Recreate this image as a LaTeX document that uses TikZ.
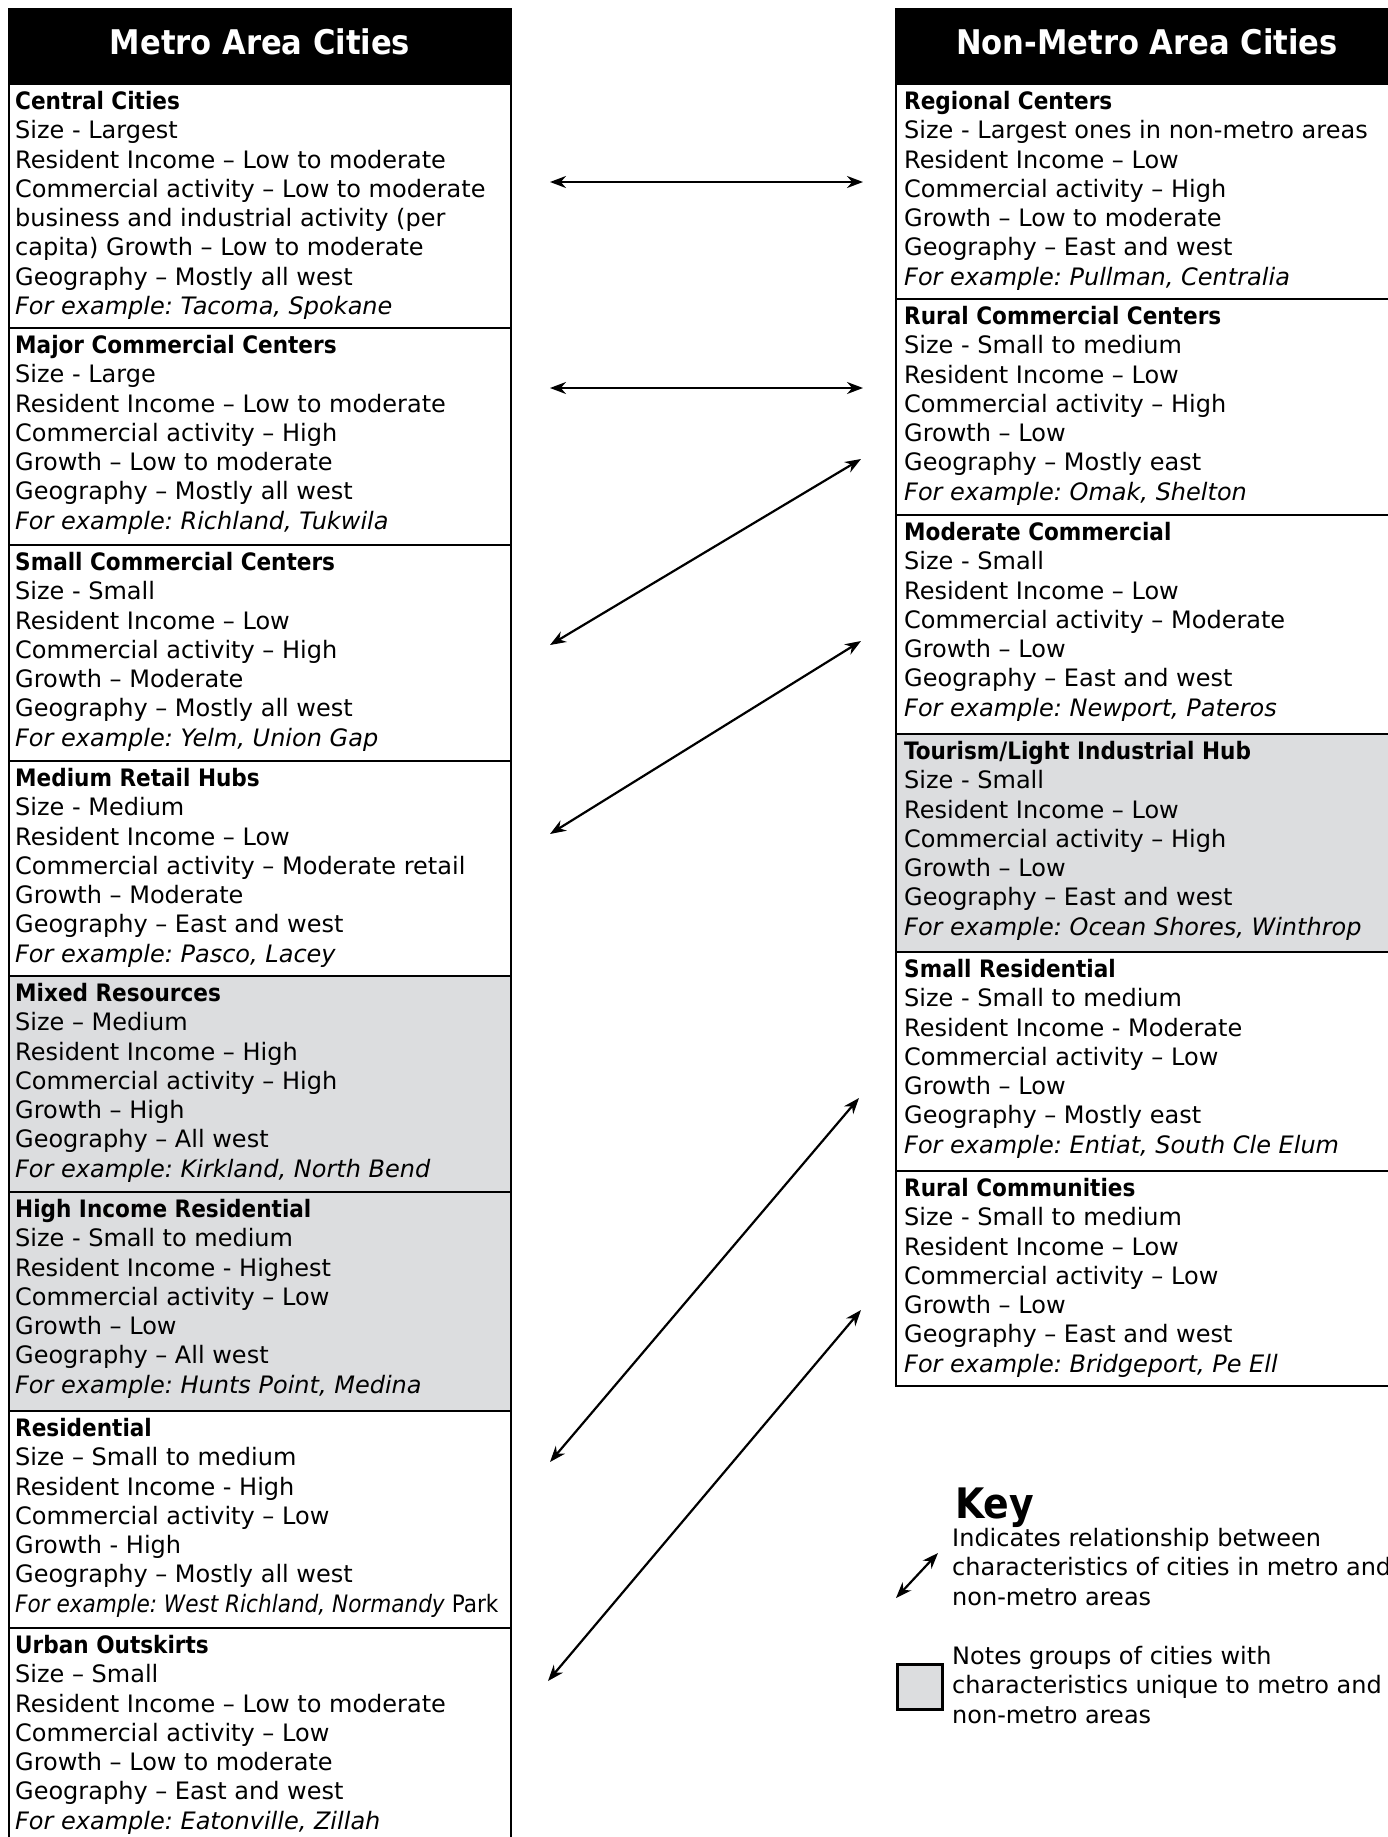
\documentclass[tikz,border=0pt]{standalone}
\usepackage{fontspec}
\setmainfont{DejaVu Sans}
\newfontfamily\condfont{DejaVu Sans Condensed}
\usetikzlibrary{arrows.meta, positioning}
\definecolor{uniquegrey}{RGB}{220,221,223}
\newcommand{\grphead}[1]{{\condfont\bfseries #1}}
\frenchspacing

\begin{document}
\begin{tikzpicture}[x=1pt, y=-1pt,
    grp/.style={draw, line width=2.6pt, minimum width=502pt, inner sep=0pt, outer sep=0pt, anchor=north west},
    unique/.style={grp, fill=uniquegrey},
    hdr/.style={grp, fill=black, minimum height=75pt, text=white, font=\fontsize{34}{40}\selectfont\condfont\bfseries, text height=26pt, text depth=11pt},
    txt/.style={anchor=north west, inner sep=0pt, align=left, font=\fontsize{24}{29.3}\selectfont},
    link/.style={{Stealth[length=16pt,width=12pt]}-{Stealth[length=16pt,width=12pt]}, line width=2.2pt}]
    \useasboundingbox (0,0) rectangle (1388,1837);

    % Metro column
    \node[hdr] (mhead) at (9,9) {Metro Area Cities};
    \node[grp, minimum height=244pt, below=0pt of mhead] (central) {};
    \node[grp, minimum height=217pt, below=0pt of central] (majorcc) {};
    \node[grp, minimum height=216pt, below=0pt of majorcc] (smallcc) {};
    \node[grp, minimum height=215pt, below=0pt of smallcc] (retail) {};
    \node[unique, minimum height=216pt, below=0pt of retail] (mixed) {};
    \node[unique, minimum height=219pt, below=0pt of mixed] (hiinc) {};
    \node[grp, minimum height=217pt, below=0pt of hiinc] (resid) {};
    \node[grp, minimum height=230pt, below=0pt of resid] (outskirts) {};

    \node[txt] at ([shift={(6,7)}]central.north west) {\grphead{Central Cities}\\Size - Largest\\Resident Income – Low to moderate\\Commercial activity – Low to moderate\\business and industrial activity (per\\capita) Growth – Low to moderate\\Geography – Mostly all west\\\textit{For example: Tacoma, Spokane}};
    \node[txt] at ([shift={(6,7)}]majorcc.north west) {\grphead{Major Commercial Centers}\\Size - Large\\Resident Income – Low to moderate\\Commercial activity – High\\Growth – Low to moderate\\Geography – Mostly all west\\\textit{For example: Richland, Tukwila}};
    \node[txt] at ([shift={(6,7)}]smallcc.north west) {\grphead{Small Commercial Centers}\\Size - Small\\Resident Income – Low\\Commercial activity – High\\Growth – Moderate\\Geography – Mostly all west\\\textit{For example: Yelm, Union Gap}};
    \node[txt] at ([shift={(6,7)}]retail.north west) {\grphead{Medium Retail Hubs}\\Size - Medium\\Resident Income – Low\\Commercial activity – Moderate retail\\Growth – Moderate\\Geography – East and west\\\textit{For example: Pasco, Lacey}};
    \node[txt] at ([shift={(6,7)}]mixed.north west) {\grphead{Mixed Resources}\\Size – Medium\\Resident Income – High\\Commercial activity – High\\Growth – High\\Geography – All west\\\textit{For example: Kirkland, North Bend}};
    \node[txt] at ([shift={(6,7)}]hiinc.north west) {\grphead{High Income Residential}\\Size - Small to medium\\Resident Income - Highest\\Commercial activity – Low\\Growth – Low\\Geography – All west\\\textit{For example: Hunts Point, Medina}};
    \node[txt] at ([shift={(6,7)}]resid.north west) {\grphead{Residential}\\Size – Small to medium\\Resident Income - High\\Commercial activity – Low\\Growth - High\\Geography – Mostly all west\\{\condfont\textit{For example: West Richland, Normandy} Park}};
    \node[txt] at ([shift={(6,7)}]outskirts.north west) {\grphead{Urban Outskirts}\\Size – Small\\Resident Income – Low to moderate\\Commercial activity – Low\\Growth – Low to moderate\\Geography – East and west\\\textit{For example: Eatonville, Zillah}};

    % Non-metro column
    \node[hdr] (nhead) at (896,9) {Non-Metro Area Cities};
    \node[grp, minimum height=215pt, below=0pt of nhead] (regional) {};
    \node[grp, minimum height=216pt, below=0pt of regional] (ruralcc) {};
    \node[grp, minimum height=219pt, below=0pt of ruralcc] (modcomm) {};
    \node[unique, minimum height=218pt, below=0pt of modcomm] (tourism) {};
    \node[grp, minimum height=219pt, below=0pt of tourism] (smallres) {};
    \node[grp, minimum height=215pt, below=0pt of smallres] (ruralcom) {};

    \node[txt] at ([shift={(8,7)}]regional.north west) {\grphead{Regional Centers}\\Size - Largest ones in non-metro areas\\Resident Income – Low\\Commercial activity – High\\Growth – Low to moderate\\Geography – East and west\\\textit{For example: Pullman, Centralia}};
    \node[txt] at ([shift={(8,7)}]ruralcc.north west) {\grphead{Rural Commercial Centers}\\Size - Small to medium\\Resident Income – Low\\Commercial activity – High\\Growth – Low\\Geography – Mostly east\\\textit{For example: Omak, Shelton}};
    \node[txt] at ([shift={(8,7)}]modcomm.north west) {\grphead{Moderate Commercial}\\Size - Small\\Resident Income – Low\\Commercial activity – Moderate\\Growth – Low\\Geography – East and west\\\textit{For example: Newport, Pateros}};
    \node[txt] at ([shift={(8,7)}]tourism.north west) {\grphead{Tourism/Light Industrial Hub}\\Size - Small\\Resident Income – Low\\Commercial activity – High\\Growth – Low\\Geography – East and west\\\textit{For example: Ocean Shores, Winthrop}};
    \node[txt] at ([shift={(8,7)}]smallres.north west) {\grphead{Small Residential}\\Size - Small to medium\\Resident Income - Moderate\\Commercial activity – Low\\Growth – Low\\Geography – Mostly east\\\textit{For example: Entiat, South Cle Elum}};
    \node[txt] at ([shift={(8,7)}]ruralcom.north west) {\grphead{Rural Communities}\\Size - Small to medium\\Resident Income – Low\\Commercial activity – Low\\Growth – Low\\Geography – East and west\\\textit{For example: Bridgeport, Pe Ell}};

    % relationship arrows
    \coordinate (l1) at (550,182);  \coordinate (r1) at (863,182);
    \coordinate (l2) at (550,388);  \coordinate (r2) at (863,388);
    \coordinate (l3) at (550,645);  \coordinate (r3) at (861,459);
    \coordinate (l4) at (550,834);  \coordinate (r4) at (861,641);
    \coordinate (l5) at (550,1462); \coordinate (r5) at (859,1098);
    \coordinate (l6) at (548,1681); \coordinate (r6) at (861,1310);
    \foreach \i in {1,...,6}
        \draw[link] (l\i) -- (r\i);

    % key
    \node[anchor=base west, inner sep=0pt, font=\fontsize{42}{48}\selectfont\condfont\bfseries] (keyhead) at (955,1518) {Key};
    \coordinate (k1) at (896,1598); \coordinate (k2) at (938,1553);
    \draw[link] (k1) -- (k2);
    \node[txt] (keyrel) at (952,1528) {Indicates relationship between\\characteristics of cities in metro and\\non-metro areas};
    \node[draw, fill=uniquegrey, line width=2.6pt, minimum size=45pt, inner sep=0pt, anchor=north west] (swatch) at (896,1663) {};
    \node[txt] (keyuniq) at (952,1646) {Notes groups of cities with\\characteristics unique to metro and\\non-metro areas};
\end{tikzpicture}
\end{document}
